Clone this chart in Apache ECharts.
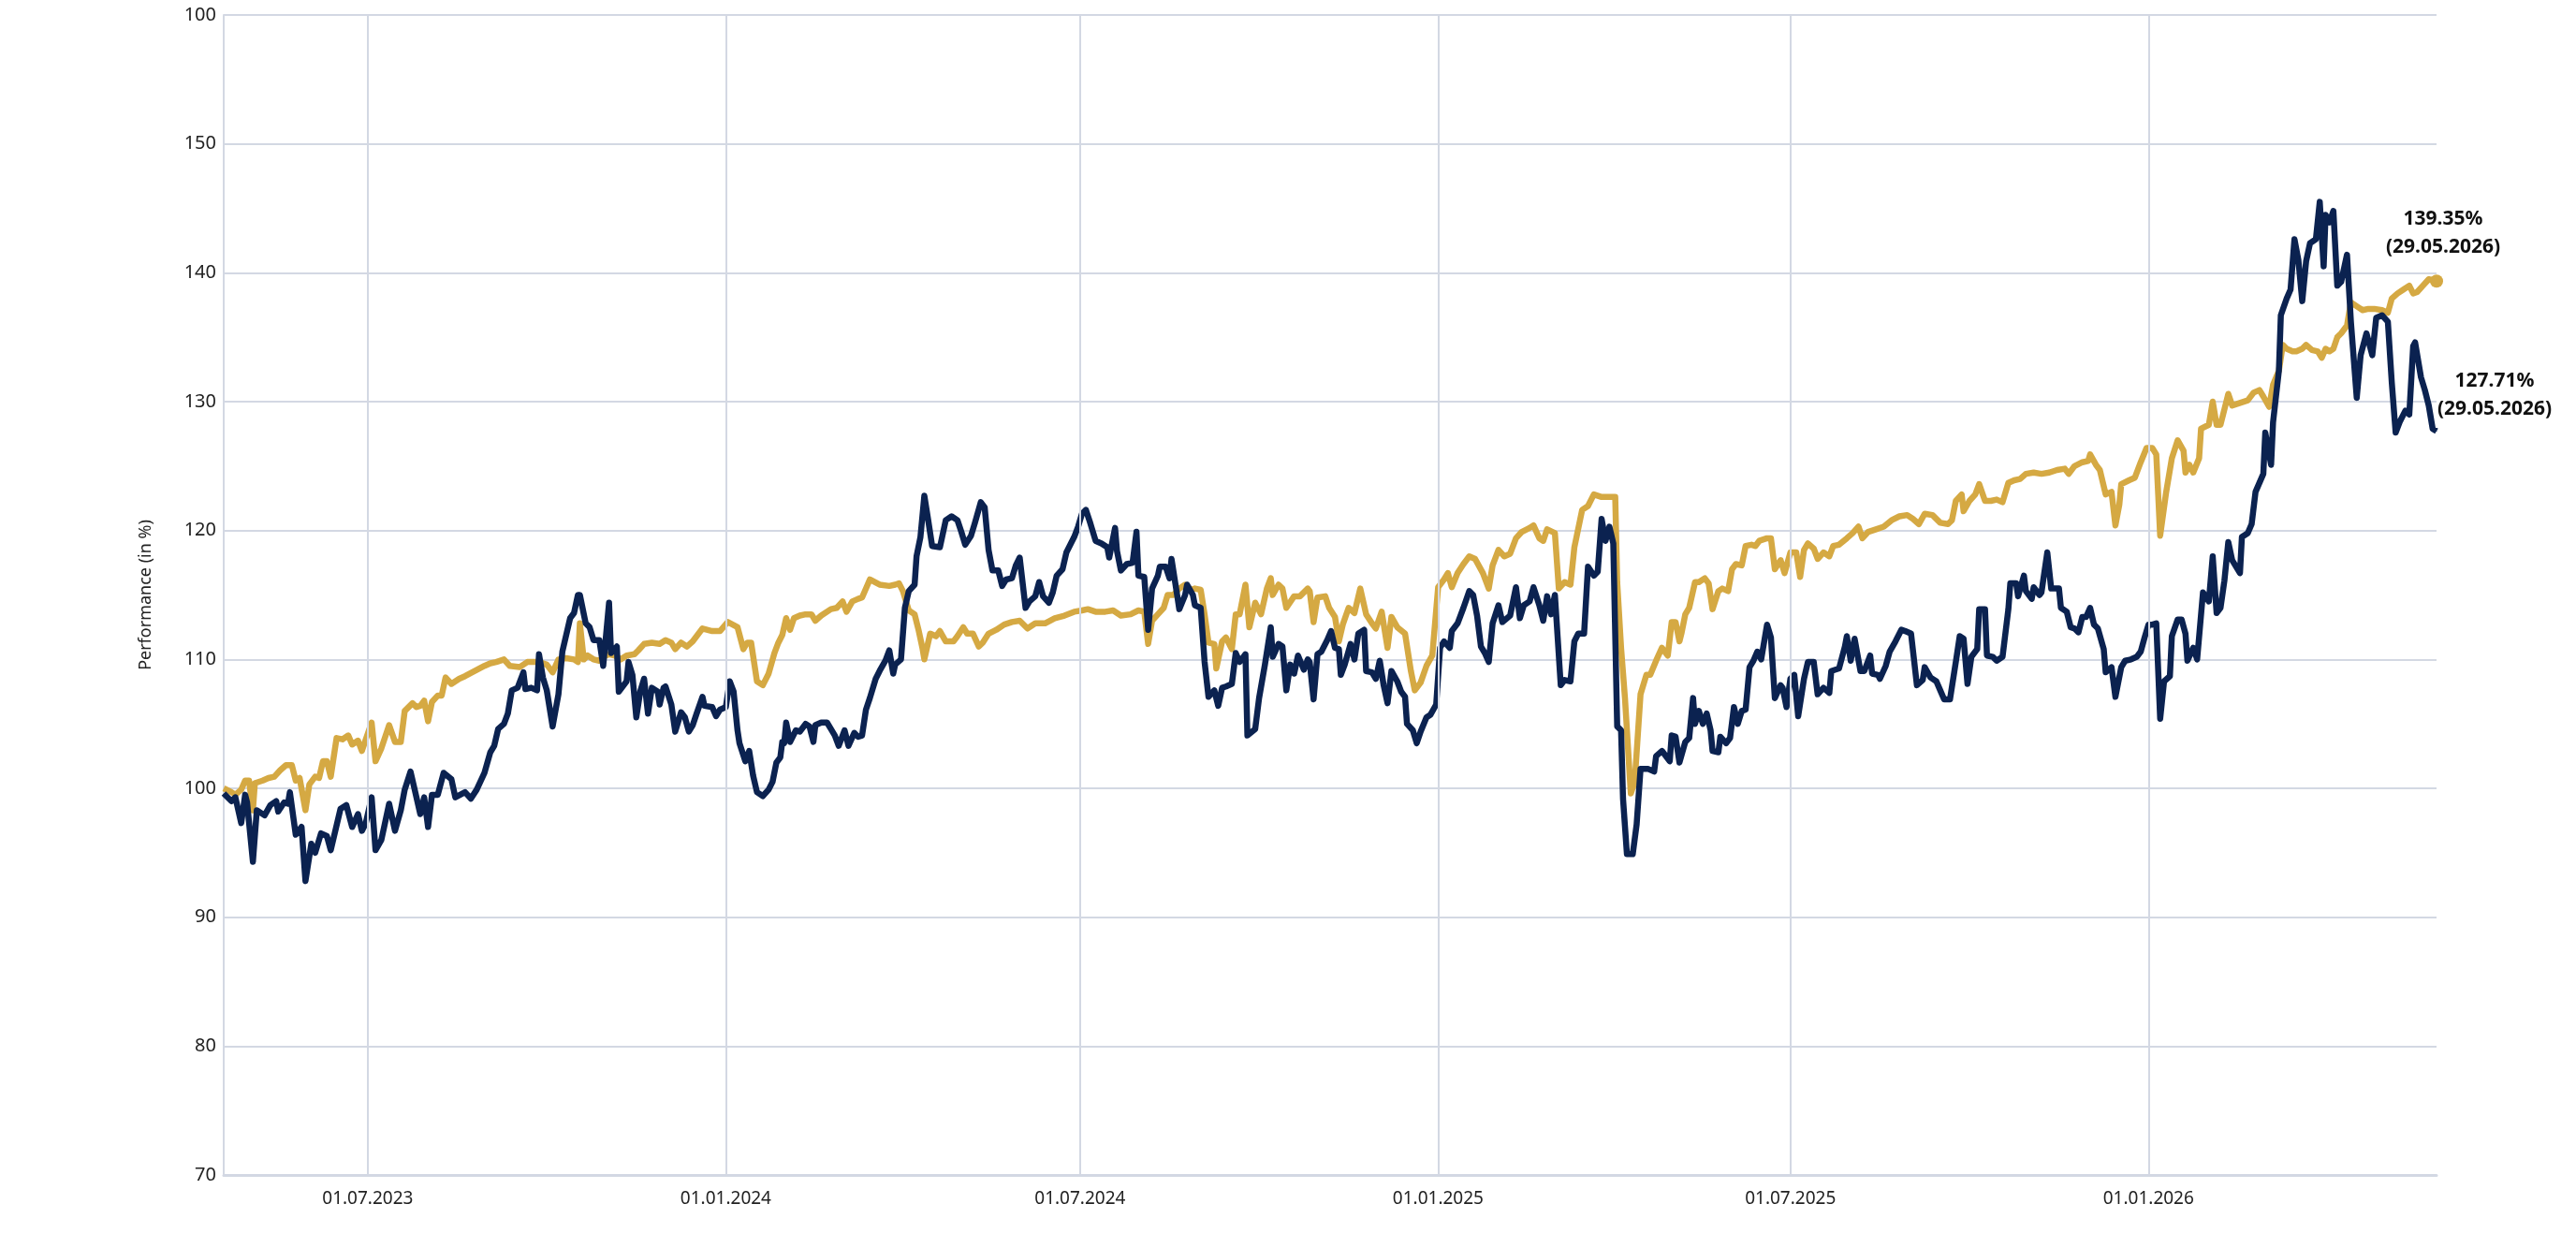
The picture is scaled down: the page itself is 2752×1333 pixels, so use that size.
<!DOCTYPE html>
<html>
<head>
<meta charset="utf-8">
<title>Performance</title>
<script src="https://cdn.jsdelivr.net/npm/echarts@6/dist/echarts.min.js"></script>
<style>
  html, body { margin: 0; padding: 0; background: #fff; }
  #chart { width: 2752px; height: 1333px; }
</style>
</head>
<body>
<div id="chart"></div>
<script>
// first day of the series; points are stored as [days since start, value in %]
const startDate = [2023, 4, 18];
const endDay = 1137; // 29.05.2026

const xTickDates = ['2023-07-01', '2024-01-01', '2024-07-01', '2025-01-01', '2025-07-01', '2026-01-01'];
const yTickLabels = ['70', '80', '90', '100', '110', '120', '130', '140', '150', '100'];

const navyPoints = [
  [0, 99.6], [4, 99.0], [6, 99.3], [9, 97.3], [11, 99.5], [12, 98.9], [15, 94.3], [17, 98.3], [21, 97.9], [24, 98.7],
  [27, 99.0], [28, 98.2], [31, 98.9], [33, 98.8], [34, 99.7], [37, 96.4], [40, 97.0], [42, 92.8], [45, 95.7], [47, 95.0],
  [50, 96.5], [53, 96.3], [55, 95.2], [60, 98.4], [63, 98.7], [66, 97.0], [69, 98.0], [71, 96.7], [73, 97.3], [76, 99.3],
  [78, 95.2], [81, 96.0], [85, 98.8], [88, 96.7], [91, 98.3], [93, 99.9], [96, 101.3], [101, 98.0], [103, 99.3], [105, 97.0],
  [107, 99.5], [110, 99.5], [113, 101.2], [117, 100.7], [119, 99.3], [124, 99.7], [127, 99.2], [130, 99.9], [134, 101.2], [137, 102.8],
  [139, 103.3], [141, 104.6], [144, 105.0], [146, 105.8], [148, 107.6], [151, 107.8], [154, 109.0], [155, 107.7], [158, 107.8], [161, 107.6],
  [162, 110.4], [164, 108.6], [166, 107.6], [169, 104.8], [172, 107.3], [174, 110.6], [178, 113.2], [180, 113.6], [182, 115.0],
  [183, 115.0], [186, 112.8], [188, 112.5], [190, 111.5], [193, 111.5], [195, 109.5], [198, 114.4], [199, 110.5], [202, 111.0], [203, 107.5],
  [207, 108.3], [208, 109.8], [210, 108.8], [212, 105.5], [214, 107.5], [216, 108.5], [218, 105.8], [220, 107.8], [223, 107.5], [224, 106.5],
  [226, 107.8], [227, 107.9], [230, 106.5], [232, 104.4], [235, 105.9], [237, 105.5], [239, 104.4], [241, 104.9], [243, 105.8], [246, 107.1],
  [247, 106.4], [251, 106.3], [253, 105.6], [255, 106.1], [258, 106.3], [260, 108.3], [262, 107.5], [264, 104.5], [265, 103.5], [268, 102.1],
  [270, 102.9], [272, 101.0], [274, 99.7], [277, 99.4], [280, 99.9], [282, 100.5], [284, 102.0], [286, 102.4], [287, 103.6], [288, 103.5],
  [289, 105.1], [291, 103.6], [294, 104.5], [296, 104.4], [299, 105.0], [301, 104.8], [303, 103.6], [304, 104.9], [307, 105.1], [310, 105.1],
  [312, 104.6], [314, 104.1], [316, 103.3], [319, 104.5], [321, 103.3], [324, 104.3], [326, 104.0], [328, 104.1], [330, 106.1], [332, 107.0],
  [335, 108.5], [337, 109.1], [340, 109.9], [342, 110.7], [344, 108.9], [345, 109.6], [348, 110.0], [350, 114.0], [352, 115.3], [355, 115.8],
  [356, 118.0], [358, 119.5], [360, 122.7], [362, 120.8], [364, 118.8], [368, 118.7],
  [371, 120.8], [374, 121.1], [377, 120.8], [379, 119.9], [381, 118.9], [384, 119.6], [386, 120.6], [389, 122.2], [391, 121.8], [393, 118.5],
  [395, 116.9], [398, 116.9], [400, 115.7], [402, 116.2], [405, 116.3], [407, 117.3], [409, 117.9], [412, 114.0], [414, 114.5], [417, 114.9],
  [419, 116.0], [421, 114.9], [424, 114.4], [426, 115.2], [428, 116.5], [431, 117.0], [433, 118.3], [435, 118.9], [437, 119.5], [439, 120.3],
  [441, 121.3], [443, 121.6], [445, 120.7], [446, 120.2], [448, 119.2], [451, 119.0], [454, 118.7], [455, 117.9], [458, 120.2], [459, 118.4],
  [461, 116.9], [464, 117.4], [467, 117.5], [469, 119.9], [470, 116.5], [473, 116.4], [475, 112.3], [477, 115.5], [480, 116.5], [481, 117.2],
  [484, 117.2], [486, 116.3], [487, 117.8], [490, 114.9], [491, 113.9], [494, 115.0], [495, 115.8], [498, 115.0], [499, 114.2], [502, 114.0],
  [504, 109.8], [506, 107.1], [509, 107.6], [511, 106.4], [513, 107.8], [515, 107.9], [518, 108.1], [520, 110.5], [522, 109.8], [525, 110.4],
  [526, 104.1], [530, 104.6], [532, 107.0], [535, 109.6], [538, 112.5], [539, 110.2], [542, 111.2], [544, 111.0], [546, 107.6], [548, 109.6],
  [550, 108.9], [552, 110.3], [555, 109.2], [557, 110.0],
  [558, 109.8], [560, 106.9], [562, 110.4], [564, 110.6], [567, 111.5], [569, 112.2], [571, 110.9], [573, 110.8], [574, 108.8], [576, 109.6],
  [579, 111.2], [581, 110.0], [583, 112.0], [586, 112.3], [587, 109.1], [590, 109.0], [592, 108.5], [594, 109.9], [596, 108.0], [598, 106.6],
  [600, 109.1], [603, 108.3], [605, 107.5], [607, 107.1], [608, 105.0], [611, 104.5], [613, 103.5], [615, 104.4], [618, 105.5], [620, 105.7],
  [623, 106.5], [625, 110.9], [627, 111.4], [630, 110.9], [631, 112.2], [634, 112.8], [637, 114.0], [640, 115.3], [642, 115.0], [644, 113.4],
  [646, 111.0], [648, 110.5], [650, 109.8], [652, 112.8], [655, 114.2], [657, 112.9], [661, 113.4], [664, 115.6], [666, 113.2], [668, 114.2],
  [671, 114.5], [673, 115.6], [676, 114.2], [678, 113.0], [680, 114.9], [682, 113.5], [684, 115.0], [687, 108.0], [689, 108.4], [692, 108.3],
  [694, 111.4], [696, 112.0], [699, 112.0], [701, 117.2], [704, 116.5], [706, 116.8], [708, 120.9], [710, 119.2], [712, 120.3], [714, 119.0],
  [716, 104.8], [718, 104.5], [719, 99.2], [721, 94.9], [724, 94.9], [726, 97.2], [728, 101.5], [732, 101.5], [735, 101.3], [736, 102.5],
  [739, 102.9], [741, 102.5], [743, 102.1], [744, 104.1],
  [746, 104.0], [748, 102.0], [751, 103.6], [753, 103.9], [755, 107.0], [756, 105.0], [758, 106.0], [760, 105.0], [762, 105.8], [764, 104.5],
  [765, 102.9], [768, 102.8], [769, 104.0], [772, 103.5], [774, 103.9], [776, 106.3], [778, 105.0], [780, 106.0], [782, 106.1], [784, 109.4],
  [786, 109.9], [788, 110.6], [790, 110.0], [793, 112.7], [795, 111.7], [797, 107.0], [800, 108.0], [801, 107.8], [803, 106.3], [805, 108.5],
  [807, 108.8], [809, 105.6], [812, 108.5], [814, 109.8], [817, 109.8], [819, 107.3], [822, 107.8], [825, 107.4], [826, 109.1], [830, 109.3],
  [833, 111.0], [834, 111.8], [836, 109.9], [838, 111.6], [841, 109.1], [843, 109.1], [846, 110.3], [847, 108.9], [850, 108.8], [851, 108.5],
  [854, 109.5], [856, 110.6], [859, 111.4], [862, 112.3], [864, 112.2], [867, 112.0], [870, 108.0], [873, 108.4], [874, 109.4], [877, 108.6],
  [880, 108.3], [882, 107.6], [884, 106.9], [887, 106.9], [890, 109.8], [892, 111.8], [894, 111.6], [896, 108.1], [898, 110.2], [901, 110.8],
  [902, 113.9], [905, 113.9], [906, 110.3], [909, 110.2], [911, 109.9], [914, 110.2], [917, 113.9], [918, 115.9], [921, 115.9], [922, 114.9],
  [925, 116.5], [926, 115.3], [929, 114.7], [930, 115.6], [933, 115.0],
  [934, 115.2], [937, 118.3], [939, 115.5], [943, 115.5], [944, 114.0], [947, 113.7], [949, 112.5], [951, 112.4], [953, 112.1], [955, 113.3],
  [957, 113.3], [959, 114.0], [961, 112.7], [963, 112.4], [966, 110.8], [967, 109.0], [970, 109.4], [972, 107.1], [975, 109.4], [977, 109.9],
  [980, 110.0], [983, 110.2], [985, 110.6], [987, 111.7], [989, 112.7], [991, 112.7], [993, 112.8], [995, 105.4], [997, 108.3], [1000, 108.7],
  [1001, 111.8], [1004, 113.1], [1006, 113.1], [1008, 112.0], [1009, 109.9], [1012, 110.9], [1014, 110.0], [1017, 115.2], [1020, 114.5], [1022, 118.0],
  [1024, 113.6], [1026, 114.0], [1028, 116.1], [1030, 119.1], [1032, 117.7], [1036, 116.7], [1037, 119.5], [1040, 119.8], [1042, 120.5], [1044, 123.0],
  [1048, 124.4], [1049, 127.6], [1052, 125.1], [1053, 128.4], [1056, 132.4], [1057, 136.7], [1060, 138.0], [1062, 138.7], [1064, 142.6], [1066, 141.0],
  [1068, 137.8], [1070, 140.9], [1072, 142.3], [1075, 142.6], [1077, 145.5], [1079, 140.5], [1080, 144.5], [1082, 143.9], [1084, 144.8], [1086, 139.0],
  [1088, 139.3], [1091, 141.4], [1093, 136.2], [1096, 130.3], [1098, 133.6], [1101, 135.3], [1104, 133.6], [1106, 136.5], [1109, 136.7], [1112, 136.2],
  [1114, 131.5], [1116, 127.6], [1118, 128.4], [1121, 129.3], [1123, 129.0], [1125, 134.3], [1126, 134.6], [1129, 131.9], [1131, 130.9], [1133, 129.7],
  [1135, 127.9], [1137, 127.71]
];

const goldPoints = [
  [0, 100.0], [4, 99.7], [6, 99.5], [9, 99.9], [11, 100.6], [13, 100.6], [15, 98.3], [16, 100.4], [20, 100.6], [23, 100.8],
  [26, 100.9], [29, 101.4], [32, 101.8], [35, 101.8], [37, 100.6], [39, 100.8], [42, 98.3], [44, 100.3], [47, 100.9], [49, 100.8],
  [51, 102.1], [53, 102.1], [55, 100.9], [58, 103.9], [61, 103.8], [64, 104.1], [66, 103.4], [69, 103.7], [71, 102.9], [73, 103.8],
  [76, 105.1], [78, 102.1], [81, 103.1], [85, 104.9], [88, 103.6], [91, 103.6], [93, 106.0], [97, 106.6], [99, 106.3], [101, 106.4],
  [103, 106.8], [105, 105.2], [107, 106.7], [110, 107.2], [112, 107.2], [114, 108.6], [117, 108.1], [121, 108.5], [124, 108.7], [129, 109.1],
  [134, 109.5], [137, 109.7], [140, 109.8], [144, 110.0], [147, 109.5], [152, 109.4], [156, 109.8], [162, 109.8], [166, 109.6], [169, 109.0],
  [172, 110.0], [176, 110.1], [180, 110.0], [182, 109.8],
  [183, 112.8], [185, 110.0], [187, 110.3], [190, 110.0], [193, 109.9], [195, 110.2], [198, 110.4], [201, 110.3], [204, 110.0], [207, 110.3],
  [211, 110.4], [213, 110.7], [216, 111.2], [220, 111.3], [224, 111.2], [227, 111.5], [230, 111.3], [232, 110.8], [235, 111.3], [238, 111.0],
  [241, 111.4], [246, 112.4], [251, 112.2], [255, 112.2], [259, 112.9], [264, 112.5], [267, 110.8], [269, 111.3], [271, 111.3], [274, 108.3],
  [277, 108.0], [280, 108.9], [283, 110.5], [285, 111.3], [287, 111.9], [289, 113.2], [291, 112.3], [293, 113.2], [296, 113.4], [299, 113.5],
  [302, 113.5], [304, 113.0], [307, 113.4], [312, 113.9], [315, 114.0], [318, 114.5], [320, 113.7], [323, 114.5], [326, 114.7], [328, 114.8],
  [332, 116.2], [337, 115.8], [342, 115.7], [345, 115.8], [347, 115.9], [349, 115.3], [352, 113.8], [355, 113.5], [357, 112.3], [359, 110.9],
  [360, 110.0], [363, 112.0], [366, 111.8], [368, 112.2],
  [371, 111.4], [375, 111.4], [377, 111.8], [380, 112.5], [382, 112.0], [385, 112.0], [388, 111.0], [390, 111.3], [393, 112.0], [397, 112.3],
  [401, 112.7], [405, 112.9], [409, 113.0], [413, 112.4], [417, 112.8], [422, 112.8], [427, 113.2], [432, 113.4], [437, 113.7], [441, 113.8],
  [444, 113.9], [448, 113.7], [453, 113.7], [457, 113.8], [461, 113.4], [466, 113.5], [470, 113.8], [473, 113.7], [475, 111.2], [477, 113.0],
  [480, 113.5], [483, 114.0], [485, 115.0], [488, 115.0], [491, 115.5], [494, 115.8], [497, 115.4], [499, 115.5], [502, 115.4], [504, 113.5],
  [506, 111.3], [509, 111.2], [510, 109.3], [513, 111.4], [515, 111.7], [518, 110.8], [520, 113.5], [522, 113.5], [525, 115.8], [527, 112.5],
  [530, 114.4], [533, 113.5], [536, 115.5], [538, 116.3], [539, 115.0], [542, 115.8], [544, 115.5], [546, 114.0], [550, 114.9], [553, 114.9],
  [557, 115.5],
  [558, 115.3], [560, 112.9], [562, 114.8], [566, 114.9], [568, 114.0], [571, 113.3], [573, 111.4], [575, 112.7], [578, 114.0], [581, 113.6],
  [584, 115.5], [587, 113.5], [590, 112.8], [592, 112.4], [595, 113.7], [598, 110.9], [600, 113.3], [603, 112.5], [607, 112.0], [610, 109.1],
  [612, 107.6], [615, 108.2], [618, 109.5], [621, 110.3], [624, 115.6], [627, 116.2], [629, 116.7], [631, 115.6], [634, 116.7], [637, 117.4],
  [640, 118.0], [643, 117.8], [647, 116.7], [650, 115.5], [652, 117.3], [655, 118.5], [658, 118.0], [661, 118.2], [664, 119.4], [667, 119.9],
  [671, 120.2], [673, 120.4], [676, 119.4], [678, 119.2], [680, 120.1], [684, 119.8], [686, 115.5], [689, 116.0], [692, 115.8], [694, 118.7],
  [698, 121.6], [701, 121.9], [704, 122.8], [708, 122.6], [712, 122.6], [715, 122.6], [716, 116.0], [718, 110.9], [720, 107.0], [723, 99.6],
  [725, 100.5], [728, 107.3], [731, 108.8], [733, 108.8], [736, 109.9], [739, 110.9], [742, 110.3], [744, 112.9],
  [746, 112.9], [748, 111.4], [749, 112.0], [751, 113.5], [753, 114.0], [756, 116.0], [758, 116.0], [761, 116.3], [763, 115.9], [765, 113.9],
  [768, 115.3], [770, 115.5], [773, 115.3], [775, 117.0], [777, 117.4], [780, 117.3], [782, 118.8], [785, 118.9], [787, 118.8], [789, 119.2],
  [793, 119.4], [795, 119.4], [797, 117.0], [800, 117.7], [802, 116.7], [805, 118.3], [808, 118.3], [810, 116.4], [812, 118.5], [814, 119.0],
  [817, 118.6], [819, 117.8], [822, 118.3], [825, 118.0], [827, 118.8], [830, 118.9], [834, 119.4], [837, 119.8], [840, 120.3], [842, 119.4],
  [845, 119.9], [849, 120.1], [853, 120.3], [857, 120.8], [861, 121.1], [865, 121.2], [868, 120.9], [871, 120.5], [874, 121.3], [878, 121.2],
  [882, 120.6], [886, 120.5], [888, 120.8], [890, 122.3], [893, 122.8], [894, 121.5], [897, 122.3], [900, 122.8], [902, 123.6], [905, 122.3],
  [908, 122.3], [911, 122.4], [914, 122.2], [917, 123.7], [920, 123.9], [923, 124.0], [926, 124.4], [930, 124.5],
  [934, 124.4], [938, 124.5], [942, 124.7], [946, 124.8], [948, 124.4], [951, 125.0], [955, 125.3], [958, 125.4], [959, 125.9], [962, 125.1],
  [964, 124.7], [967, 122.8], [970, 123.0], [972, 120.4], [974, 122.0], [975, 123.6], [979, 123.9], [982, 124.1], [985, 125.3], [988, 126.4],
  [991, 126.4], [993, 125.9], [995, 119.6], [998, 122.9], [1001, 125.6], [1004, 127.0], [1007, 126.2], [1008, 124.5], [1010, 125.1], [1012, 124.5],
  [1015, 125.6], [1016, 127.9], [1020, 128.2], [1022, 130.0], [1024, 128.2], [1026, 128.2], [1028, 129.4], [1030, 130.6], [1032, 129.7], [1036, 129.9],
  [1040, 130.1], [1043, 130.7], [1046, 130.9], [1048, 130.4], [1051, 129.6], [1053, 131.3], [1056, 132.4], [1058, 134.4], [1060, 134.1], [1063, 133.9],
  [1065, 133.9], [1068, 134.1], [1070, 134.4], [1073, 134.0], [1076, 133.9], [1078, 133.4], [1080, 134.1], [1082, 133.9], [1084, 134.1], [1086, 135.0],
  [1088, 135.3], [1091, 135.9], [1093, 137.7], [1096, 137.4], [1099, 137.1], [1102, 137.2], [1105, 137.2], [1109, 137.1], [1112, 136.9], [1114, 138.0],
  [1117, 138.4], [1120, 138.7], [1123, 139.0], [1125, 138.4], [1127, 138.5], [1130, 139.0], [1133, 139.5], [1137, 139.35]
];

const navyColor = '#0b2250';
const goldColor = '#d5a943';
const gridColor = '#d3d8e3';
const fontFamily = '"Noto Sans", sans-serif';
const DAY = 86400000;

const t0 = new Date(startDate[0], startDate[1] - 1, startDate[2]).getTime();
function dateOfDay(d) {
  return new Date(startDate[0], startDate[1] - 1, startDate[2] + d);
}
function dayOfDate(s) {
  const p = s.split('-').map(Number);
  return Math.round((new Date(p[0], p[1] - 1, p[2]).getTime() - t0) / DAY);
}
function pad(n) { return n < 10 ? '0' + n : '' + n; }
function fmtDay(d) {
  const dt = dateOfDay(Math.round(d));
  return pad(dt.getDate()) + '.' + pad(dt.getMonth() + 1) + '.' + dt.getFullYear();
}

// the last point carries the end label
function buildData(points, endLabel) {
  const out = points.map(p => [p[0], p[1]]);
  const last = out.pop();
  out.push({
    value: last,
    symbol: endLabel.symbol,
    symbolSize: endLabel.symbolSize,
    label: {
      show: true,
      position: 'top',
      distance: endLabel.distance,
      offset: endLabel.offset,
      align: 'center',
      formatter: last[1].toFixed(2) + '%\n(' + fmtDay(last[0]) + ')',
      fontFamily: fontFamily,
      fontWeight: 'bold',
      fontSize: 21,
      lineHeight: 30,
      color: '#111'
    }
  });
  return out;
}

const xTicks = xTickDates.map(dayOfDate);

const chart = echarts.init(document.getElementById('chart'), null, { renderer: 'canvas' });

chart.setOption({
  animation: false,
  backgroundColor: '#ffffff',
  grid: { left: 239, right: 149, top: 16, bottom: 78, containLabel: false },
  xAxis: {
    type: 'value',
    min: 0,
    max: endDay,
    axisLine: { show: true, lineStyle: { color: gridColor, width: 3 } },
    axisTick: { show: false, customValues: xTicks },
    splitLine: { show: false },
    axisLabel: {
      customValues: xTicks,
      formatter: v => fmtDay(v),
      fontFamily: fontFamily,
      fontSize: 19,
      color: '#222',
      margin: 16
    }
  },
  yAxis: {
    type: 'value',
    min: 70,
    max: 160,
    interval: 10,
    name: 'Performance (in %)',
    nameLocation: 'middle',
    nameGap: 74,
    nameTextStyle: { fontFamily: fontFamily, fontSize: 18, color: '#222' },
    axisLine: { show: true, lineStyle: { color: gridColor, width: 2 } },
    axisTick: { show: false },
    splitLine: { show: true, lineStyle: { color: gridColor, width: 2 } },
    axisLabel: {
      formatter: v => yTickLabels[Math.round((v - 70) / 10)],
      fontFamily: fontFamily,
      fontSize: 20,
      color: '#222',
      margin: 8
    }
  },
  series: [
    {
      // vertical grid lines at the labelled dates
      name: 'grid',
      type: 'line',
      data: [],
      z: 1,
      silent: true,
      markLine: {
        silent: true,
        symbol: 'none',
        label: { show: false },
        lineStyle: { color: gridColor, width: 2, type: 'solid' },
        data: xTicks.map(d => ({ xAxis: d }))
      }
    },
    {
      name: 'Gold',
      type: 'line',
      symbol: 'none',
      lineStyle: { color: goldColor, width: 6.5, join: 'round' },
      itemStyle: { color: goldColor },
      z: 2,
      data: buildData(goldPoints, { symbol: 'circle', symbolSize: 14, distance: 14, offset: [7, 0] })
    },
    {
      name: 'Navy',
      type: 'line',
      symbol: 'none',
      lineStyle: { color: navyColor, width: 6.5, join: 'round' },
      itemStyle: { color: navyColor },
      z: 3,
      data: buildData(navyPoints, { symbol: 'circle', symbolSize: 1, distance: 8, offset: [62, 0] })
    }
  ]
});
</script>
</body>
</html>
